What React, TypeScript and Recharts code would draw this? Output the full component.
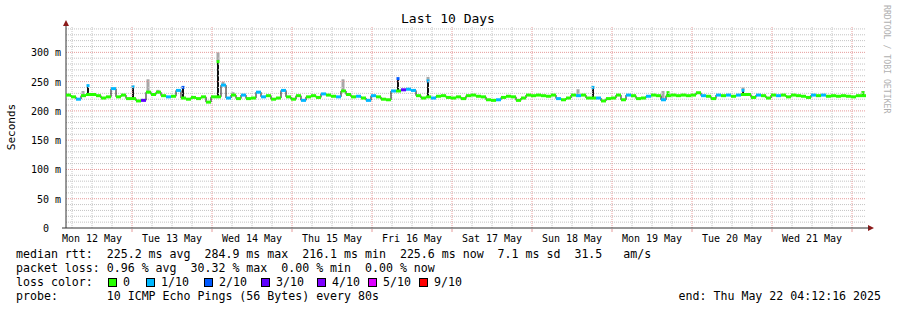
import React from 'react';
import {
  ComposedChart, Line, Bar, Scatter, XAxis, YAxis, ReferenceLine,
} from 'recharts';

// median rtt (ms), one sample every 1.5 h
const MEDIAN = [
  227, 224, 220, 226, 228, 228, 226, 222, 224, 238,
  224, 227, 221, 221, 217, 218, 232, 228, 232, 226,
  224, 225, 235, 222, 220, 223, 221, 224, 215, 224,
  224, 244, 222, 227, 221, 227, 221, 222, 232, 224,
  226, 220, 222, 235, 224, 220, 226, 218, 224, 226,
  223, 229, 227, 225, 224, 234, 228, 224, 225, 222,
  218, 226, 224, 220, 219, 234, 234, 236, 237, 235,
  226, 222, 224, 222, 225, 226, 223, 222, 224, 221,
  226, 227, 225, 224, 219, 218, 219, 223, 225, 224,
  218, 222, 227, 226, 227, 226, 225, 227, 221, 219,
  222, 227, 226, 227, 222, 222, 222, 217, 221, 222,
  227, 219, 227, 226, 221, 222, 225, 227, 226, 219,
  226, 227, 226, 227, 226, 227, 231, 226, 225, 221,
  227, 226, 227, 225, 227, 228, 228, 223, 227, 226,
  222, 227, 226, 227, 224, 227, 226, 225, 223, 227,
  226, 227, 225, 226, 225, 226, 225, 224, 226, 226,
];

// packet loss level per sample (index into LOSS_COLORS)
const LOSS = [
  0, 0, 1, 0, 1, 0, 0, 0, 0, 1,
  0, 0, 0, 1, 0, 3, 0, 0, 0, 0,
  1, 0, 1, 2, 0, 0, 0, 0, 0, 0,
  0, 1, 1, 0, 0, 1, 0, 0, 1, 1,
  0, 0, 0, 1, 0, 0, 0, 1, 0, 0,
  0, 1, 0, 0, 1, 0, 0, 0, 1, 0,
  1, 1, 0, 0, 0, 1, 2, 3, 1, 1,
  0, 0, 1, 1, 0, 0, 0, 0, 0, 0,
  0, 0, 0, 0, 0, 0, 1, 0, 0, 0,
  0, 0, 0, 0, 0, 0, 0, 0, 1, 0,
  0, 0, 1, 0, 0, 1, 1, 0, 0, 0,
  0, 0, 1, 0, 0, 0, 1, 0, 0, 1,
  0, 0, 0, 0, 0, 0, 0, 1, 0, 0,
  1, 0, 1, 0, 1, 1, 0, 0, 1, 0,
  0, 0, 1, 0, 0, 0, 0, 0, 0, 1,
  0, 1, 0, 0, 0, 0, 0, 0, 0, 0,
];

// short one-pixel median spikes
const SPIKE_AT = [4, 13, 23, 30, 66, 72, 105, 120, 135, 159];
const SPIKE_TOP = [244, 242, 241, 285, 256, 252, 241, 232, 236, 232];

// smoke (max ping) where it sticks out above the median
const SMOKE_AT = [3, 16, 18, 30, 31, 33, 55, 72, 102, 119, 135, 159];
const SMOKE_TOP = [234, 254, 236, 300, 250, 232, 254, 258, 237, 234, 240, 234];

const LOSS_LABELS = ['0', '1/10', '2/10', '3/10', '4/10', '5/10', '9/10'];
const LOSS_COLORS = ['#26ff00', '#00b8ff', '#0059ff', '#5e00ff', '#7e00ff', '#dd00ff', '#ff0000'];
const LOSS_X = [108, 146, 204, 261, 317, 368, 419];

const DAY_LABELS = [
  'Mon 12 May', 'Tue 13 May', 'Wed 14 May', 'Thu 15 May', 'Fri 16 May',
  'Sat 17 May', 'Sun 18 May', 'Mon 19 May', 'Tue 20 May', 'Wed 21 May',
];
const Y_TICKS = [0, 50, 100, 150, 200, 250, 300];
const Y_MINOR = [10, 20, 30, 40, 60, 70, 80, 90, 110, 120, 130, 140, 160, 170, 180, 190,
  210, 220, 230, 240, 260, 270, 280, 290, 310, 320, 330, 340];

const STEP = 1.5;       // hours per sample
const SPAN = 240;       // 10 days
const START_HOUR = 4.2; // graph starts Mon 12 May 04:12

const rows = MEDIAN.map((m, i) => {
  const s = SPIKE_AT.indexOf(i);
  const k = SMOKE_AT.indexOf(i);
  const top = s >= 0 ? SPIKE_TOP[s] : m;
  const smoke = k >= 0 ? Math.max(SMOKE_TOP[k], top) : top;
  return { t: i * STEP, median: m, loss: s >= 0 ? 0 : LOSS[i], capLoss: LOSS[i], top, smoke };
});
const lineRows = [...rows, { ...rows[rows.length - 1], t: SPAN, smoke: rows[rows.length - 1].median, top: rows[rows.length - 1].median }];

const dayTicks = DAY_LABELS.map((_, k) => 24 * k + 12 - START_HOUR);
const midnights = DAY_LABELS.map((_, k) => 24 * (k + 1) - START_HOUR);
const sixHours: number[] = [];
for (let h = 24 - START_HOUR - 18; h < SPAN; h += 6) {
  if (!midnights.some((m) => Math.abs(m - h) < 0.01)) sixHours.push(h);
}

const MONO = '"DejaVu Sans Mono", monospace';

const YTick = ({ y, payload }: any) => (
  <text x={payload.value === 0 ? 49 : 61} y={y} dy={4} textAnchor="end"
    fontFamily={MONO} fontSize={10} fill="#000">
    {payload.value === 0 ? '0' : `${payload.value} m`}
  </text>
);

const XTick = ({ x, payload }: any) => {
  const idx = dayTicks.findIndex((d) => Math.abs(d - payload.value) < 0.01);
  return (
    <text x={x} y={242} textAnchor="middle" fontFamily={MONO} fontSize={10} fill="#000">
      {DAY_LABELS[idx]}
    </text>
  );
};

const LossMark = (props: any) => {
  const { cx, cy, payload } = props;
  if (cx == null || cy == null) return null;
  return <rect x={cx} y={cy - 1.5} width={5} height={3} fill={LOSS_COLORS[payload.loss]} />;
};

// spike + smoke column, drawn in the middle of its 1.5 h step
const SpikeShape = (props: any) => {
  const { x, y, width, height, payload } = props;
  if (!payload || payload.smoke <= payload.median || !height) return null;
  const h = Math.abs(height);
  const y0 = Math.min(y, y + height);
  const k = h / (payload.smoke - payload.median);
  const cx = x + width / 2 + 2.5;
  const yTop = y0 + (payload.smoke - payload.top) * k;
  const hasSpike = payload.top > payload.median;
  return (
    <g>
      {payload.smoke > payload.top && (
        <rect x={cx - 1.5} y={y0} width={3} height={yTop - y0} fill="#a8a8a8" />
      )}
      {hasSpike && <rect x={cx - 1} y={yTop} width={2} height={y0 + h - yTop} fill="#111" />}
      {hasSpike && <rect x={cx - 1.5} y={yTop - 1} width={3} height={3} fill={LOSS_COLORS[payload.capLoss]} />}
    </g>
  );
};

const textStyle: React.CSSProperties = { whiteSpace: 'pre' };

export default function App() {
  return (
    <div style={{ position: 'absolute', left: 0, top: 0, width: 897, height: 310, background: '#fff' }}>
      <ComposedChart width={897} height={310} data={lineRows}
        margin={{ top: 26, right: 31, bottom: 62, left: 0 }}>
        {Y_MINOR.map((v) => (
          <ReferenceLine key={`hm${v}`} y={v} stroke="#c4c4c4" strokeDasharray="1 1" />
        ))}
        {sixHours.map((h) => (
          <ReferenceLine key={`vm${h}`} x={h} stroke="#c4c4c4" strokeDasharray="1 1" />
        ))}
        {Y_TICKS.filter((v) => v > 0).map((v) => (
          <ReferenceLine key={`hM${v}`} y={v} stroke="#e69a9a" strokeDasharray="1 1" />
        ))}
        {midnights.map((h) => (
          <ReferenceLine key={`vM${h}`} x={h} stroke="#e69a9a" strokeDasharray="1 1" />
        ))}
        <XAxis dataKey="t" type="number" domain={[0, SPAN]} ticks={dayTicks}
          tick={<XTick />} tickLine={false} axisLine={{ stroke: '#333' }} height={20}
          allowDataOverflow />
        <YAxis type="number" domain={[0, 345]} ticks={Y_TICKS} tick={<YTick />}
          tickLine={false} axisLine={{ stroke: '#333' }} width={66} allowDataOverflow />
        <Line dataKey="median" type="stepAfter" stroke="#111" strokeWidth={1}
          dot={false} isAnimationActive={false} />
        <Scatter data={rows} dataKey="median" shape={<LossMark />} isAnimationActive={false} />
        <Bar dataKey={(d: any) => [d.median, d.smoke]} barSize={2} shape={<SpikeShape />}
          isAnimationActive={false} />
      </ComposedChart>

      <svg width={897} height={310} style={{ position: 'absolute', left: 0, top: 0, pointerEvents: 'none' }}>
        <text x={448} y={23} textAnchor="middle" fontFamily={MONO} fontSize={13} fill="#000">Last 10 Days</text>
        <text transform="translate(15,127) rotate(-90)" textAnchor="middle" fontFamily={MONO}
          fontSize={11} fill="#000">Seconds</text>
        <text transform="translate(884,5) rotate(90)" fontFamily={MONO} fontSize={8.2}
          fill="#b0b0b0">RRDTOOL / TOBI OETIKER</text>
        <polygon points="63,26 69,26 66,20" fill="#8b1a1a" />
        <polygon points="868,225 868,231 874,228" fill="#8b1a1a" />
        <line x1={866} y1={228} x2={869} y2={228} stroke="#333" />
        <line x1={62} y1={228} x2={66} y2={228} stroke="#333" />
        {midnights.map((h) => {
          const x = 66 + (h / SPAN) * 800;
          return <line key={h} x1={x} y1={229} x2={x} y2={232} stroke="#e69a9a" />;
        })}

        <g fontFamily={MONO} fontSize={11.6} fill="#000">
          <text x={16} y={258} style={textStyle}>
            {'median rtt:  225.2 ms avg  284.9 ms max  216.1 ms min  225.6 ms now  7.1 ms sd  31.5   am/s'}
          </text>
          <text x={16} y={272} style={textStyle}>
            {'packet loss: 0.96 % avg  30.32 % max  0.00 % min  0.00 % now'}
          </text>
          <text x={16} y={286} style={textStyle}>{'loss color:'}</text>
          {LOSS_LABELS.map((l, i) => (
            <g key={l}>
              <rect x={LOSS_X[i] + 0.5} y={278.5} width={8} height={8} fill={LOSS_COLORS[i]} stroke="#000" />
              <text x={LOSS_X[i] + 15} y={286}>{l}</text>
            </g>
          ))}
          <text x={16} y={300} style={textStyle}>
            {'probe:       10 ICMP Echo Pings (56 Bytes) every 80s'}
          </text>
          <text x={881} y={300} textAnchor="end" style={textStyle}>
            {'end: Thu May 22 04:12:16 2025'}
          </text>
        </g>
      </svg>
    </div>
  );
}
